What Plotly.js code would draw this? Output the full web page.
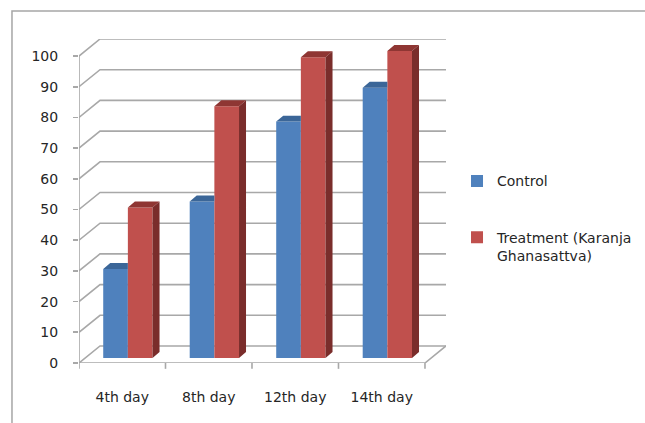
<!DOCTYPE html>
<html>
<head>
<meta charset="utf-8">
<script src="https://cdn.plot.ly/plotly-3.0.1.min.js"></script>
<style>html,body{margin:0;padding:0;background:#fff;}#chart{width:645px;height:423px;}</style>
</head>
<body>
<div id="chart"></div>
<script>
// ---- data ----
const categories = ['4th day', '8th day', '12th day', '14th day'];
const controlValues = [29, 51, 77, 88];
const treatmentValues = [49, 82, 98, 100];
const yTickValues = [0, 10, 20, 30, 40, 50, 60, 70, 80, 90, 100];
const seriesNames = ['Control', 'Treatment (Karanja<br>Ghanasattva)'];

// ---- 3D styling geometry (in axis units) ----
const DX = 0.243, DY = 5.54;      // wall depth offset
const BY = 1.63;                  // bar baseline lift (bar depth position)
const BW = 0.285;                 // bar width
const OFF = [-0.22, 0.065];       // bar offsets from category centre
const DDX = 0.081, DDY = 1.95;    // bar depth
const FRONT = ['#4F81BD', '#C0504D'];
const TOP = ['#3B6698', '#8F3633'];
const SIDE = ['#34598A', '#7A2D2B'];
const GRID = '#a8a8a8';

const xs = categories.map((_, i) => i);
const n = categories.length;
const xMin = -0.5, xMax = n - 0.5;

const traces = [];
const seriesVals = [controlValues, treatmentValues];

seriesVals.forEach((vals, s) => {
  // front faces as real bars
  traces.push({
    type: 'bar', x: xs, y: vals, base: vals.map(() => BY),
    width: BW, offset: OFF[s], name: seriesNames[s],
    legendgroup: 'g' + s,
    marker: {color: FRONT[s], line: {width: 0}},
    hoverinfo: 'skip'
  });
  // top faces & side faces
  const tx = [], ty = [], sx = [], sy = [];
  vals.forEach((v, i) => {
    const xl = xs[i] + OFF[s], xr = xl + BW, top = v + BY;
    if (s === 0) {
      // visible part of the top (the rest is hidden by the neighbouring bar)
      tx.push(xl, xr, xr, xl + DDX, xl, null);
      ty.push(top, top, top + DDY, top + DDY, top, null);
    } else {
      tx.push(xl, xr, xr + DDX, xl + DDX, xl, null);
      ty.push(top, top, top + DDY, top + DDY, top, null);
      sx.push(xr, xr, xr + DDX, xr + DDX, xr, null);
      sy.push(BY, top, top + DDY, BY + DDY, BY, null);
    }
  });
  traces.push({type: 'scatter', mode: 'none', x: tx, y: ty, fill: 'toself',
    fillcolor: TOP[s], showlegend: false, hoverinfo: 'skip', legendgroup: 'g' + s});
  if (sx.length) {
    traces.push({type: 'scatter', mode: 'none', x: sx, y: sy, fill: 'toself',
      fillcolor: SIDE[s], showlegend: false, hoverinfo: 'skip', legendgroup: 'g' + s});
  }
});

// ---- walls / gridlines as shapes behind the bars ----
const shapes = [];
const lineStyle = {color: GRID, width: 1.6};
yTickValues.forEach(t => {
  shapes.push({type: 'path', xref: 'x', yref: 'y', layer: 'below', line: lineStyle,
    path: `M ${xMin},${t} L ${xMin + DX},${t + DY} L ${xMax + DX},${t + DY}`});
});
const yTop = yTickValues[yTickValues.length - 1];
// front vertical axis
shapes.push({type: 'line', xref: 'x', yref: 'y', layer: 'below', line: lineStyle,
  x0: xMin, x1: xMin, y0: 0, y1: yTop});
// floor front edge and right edge
shapes.push({type: 'path', xref: 'x', yref: 'y', layer: 'below', line: lineStyle,
  path: `M ${xMin},0 L ${xMax},0 L ${xMax + DX},${DY}`});
// x tick marks at category boundaries
for (let i = 0; i <= n; i++) {
  shapes.push({type: 'line', xref: 'x', yref: 'paper', layer: 'below', line: lineStyle,
    x0: xMin + i, x1: xMin + i, y0: 0, y1: -0.018});
}
// chart frame (left and top edges)
shapes.push({type: 'path', xref: 'paper', yref: 'paper', line: {color: '#a6a6a6', width: 1.5},
  path: 'M -0.1826,-0.2 L -0.1826,1.0864 L 1.6,1.0864'});

const font = {family: 'DejaVu Sans, Verdana, sans-serif', size: 14, color: '#262626'};

const layout = {
  width: 645, height: 423,
  margin: {l: 79, r: 199, t: 39, b: 60, pad: 0, autoexpand: false},
  paper_bgcolor: '#ffffff', plot_bgcolor: 'rgba(0,0,0,0)',
  font: font,
  barmode: 'overlay',
  showlegend: true,
  legend: {x: 1.03, xanchor: 'left', y: 0.61, yanchor: 'top', font: font,
    tracegroupgap: 35, valign: 'top', bgcolor: 'rgba(0,0,0,0)', traceorder: 'grouped'},
  xaxis: {range: [xMin, xMax + DX], tickvals: xs, ticktext: categories,
    ticks: '', showgrid: false, zeroline: false, showline: false,
    ticklabelstandoff: 24, fixedrange: true, automargin: false},
  yaxis: {range: [0, yTop + DY], tickvals: yTickValues, ticks: 'outside', ticklen: 5,
    tickcolor: GRID, tickwidth: 1.6, showgrid: false, zeroline: false, showline: false,
    ticklabelstandoff: 12, fixedrange: true, automargin: false},
  shapes: shapes
};

Plotly.newPlot('chart', traces, layout, {displayModeBar: false, staticPlot: true});
</script>
</body>
</html>
